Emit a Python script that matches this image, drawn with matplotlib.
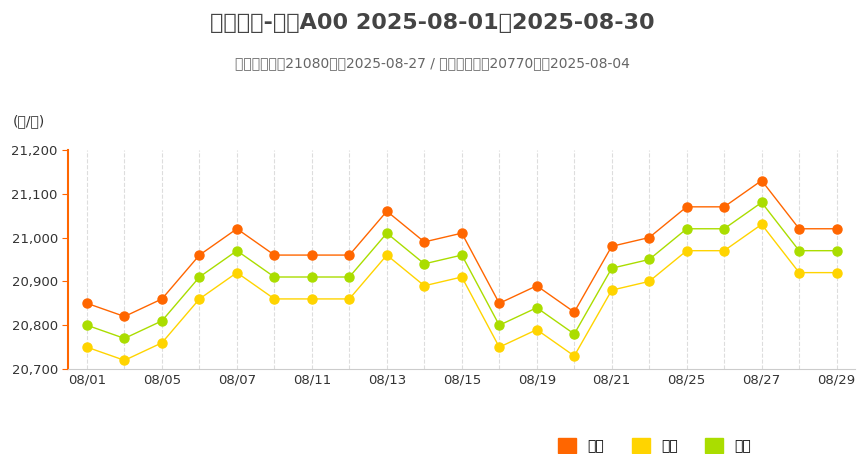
import matplotlib
matplotlib.use("Agg")
import matplotlib.pyplot as plt
from matplotlib import font_manager
from matplotlib.ticker import FuncFormatter
from matplotlib.patches import Patch

cjk = None
for f in font_manager.fontManager.ttflist:
    if "CJK" in f.name and ("SC" in f.name or cjk is None):
        cjk = f.name
if cjk is None:
    for p in font_manager.findSystemFonts():
        if "CJK" in p:
            font_manager.fontManager.addfont(p)
            cjk = font_manager.FontProperties(fname=p).get_name()
            break
plt.rcParams["font.family"] = "sans-serif"
plt.rcParams["font.sans-serif"] = ["DejaVu Sans"] + ([cjk] if cjk else [])

dates = ["08/01","08/04","08/05","08/06","08/07","08/08","08/11","08/12","08/13","08/14",
         "08/15","08/18","08/19","08/20","08/21","08/22","08/25","08/26","08/27","08/28","08/29"]
high = [20850,20820,20860,20960,21020,20960,20960,20960,21060,20990,21010,20850,20890,20830,20980,21000,21070,21070,21130,21020,21020]
low = [20750,20720,20760,20860,20920,20860,20860,20860,20960,20890,20910,20750,20790,20730,20880,20900,20970,20970,21030,20920,20920]
avg = [20800,20770,20810,20910,20970,20910,20910,20910,21010,20940,20960,20800,20840,20780,20930,20950,21020,21020,21080,20970,20970]

fig = plt.figure(figsize=(8.64, 4.54), dpi=100)
ax = fig.add_axes([0.079, 0.187, 0.911, 0.483])
x = list(range(len(dates)))
for vals, c, lab in [(high, "#FF6600", "最高"), (low, "#FFD400", "最低"), (avg, "#AADD00", "均价")]:
    ax.plot(x, vals, color=c, lw=1, marker="o", ms=6.5, label=lab, zorder=3)

ax.set_ylim(20700, 21200)
ax.set_xlim(-0.5, 20.5)
ax.set_yticks(range(20700, 21201, 100))
ax.yaxis.set_major_formatter(FuncFormatter(lambda v, p: f"{int(v):,}"))
ax.set_xticks(x[::2])
ax.set_xticklabels(dates[::2])
for xi in x:
    ax.axvline(xi, linestyle="--", color="#dddddd", lw=0.8, zorder=0)
ax.tick_params(axis="both", labelsize=9.5, colors="#333333", length=0)
for s in ["top", "right"]:
    ax.spines[s].set_visible(False)
ax.spines["left"].set_color("#FF6600")
ax.spines["left"].set_linewidth(1.5)
ax.spines["bottom"].set_color("#cccccc")
ax.tick_params(axis="y", length=4, color="#FF6600", direction="out")

fig.text(0.5, 0.95, "南海有色-佛山A00 2025-08-01至2025-08-30", ha="center", va="center",
         fontsize=16, fontweight="bold", color="#444444")
fig.text(0.5, 0.86, "区间均价最高21080日期2025-08-27 / 区间均价最低20770日期2025-08-04",
         ha="center", va="center", fontsize=10, color="#666666")
fig.text(0.015, 0.725, "(元/吨)", fontsize=10, color="#333333")
ax.legend(handles=[Patch(color="#FF6600", label="最高"), Patch(color="#FFD400", label="最低"),
                   Patch(color="#AADD00", label="均价")],
          loc="center", bbox_to_anchor=(0.745, -0.35), ncol=3, frameon=False,
          fontsize=10, handlelength=1.3, handleheight=1.3, columnspacing=2)
fig.savefig("out.png", dpi=100)
